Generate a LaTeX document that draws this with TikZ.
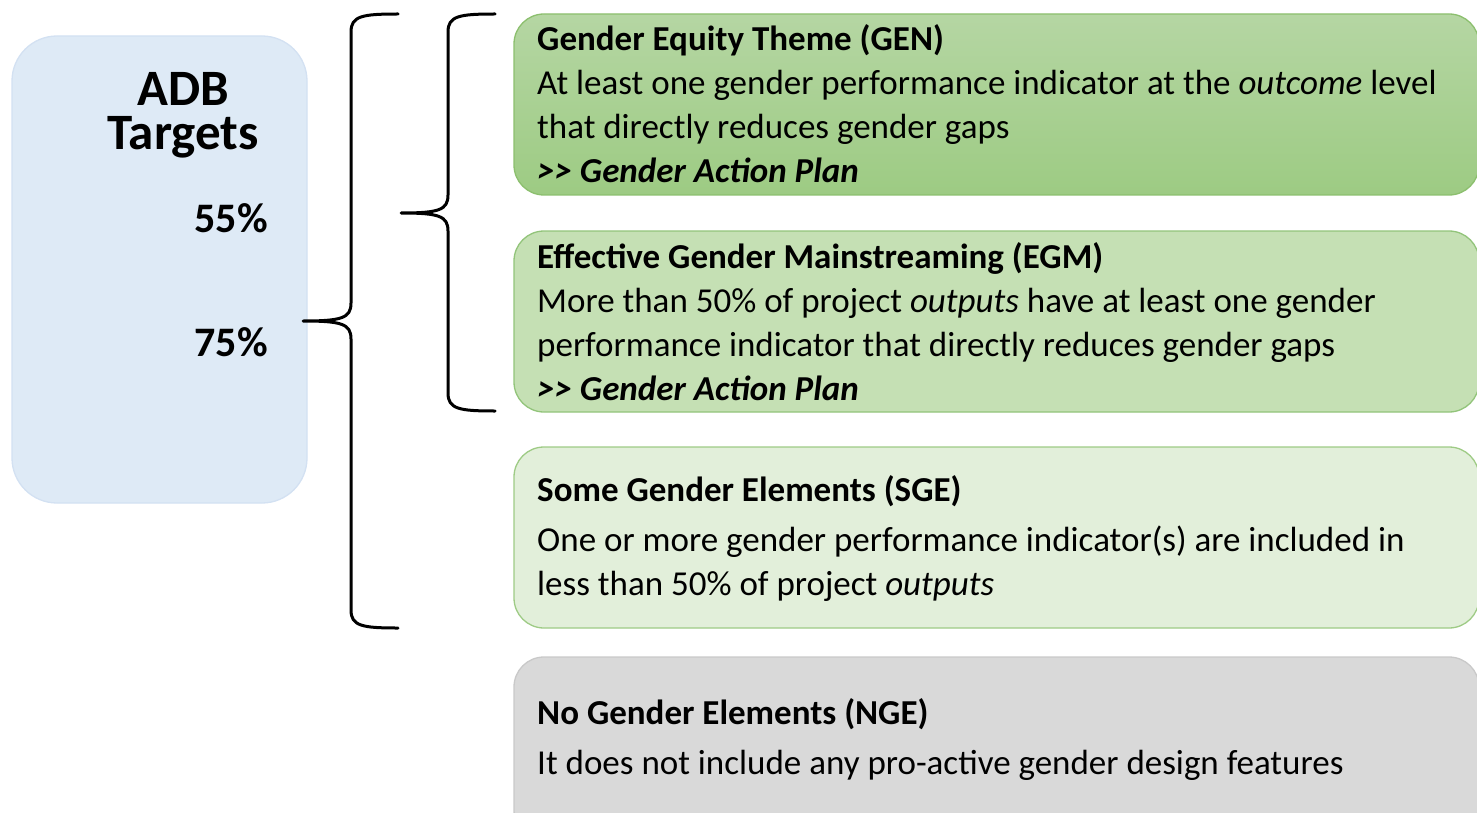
\documentclass[tikz,border=0pt]{standalone}
\usepackage{fontspec}
\setmainfont{Carlito}
\definecolor{blueFill}{HTML}{DEEAF6}
\definecolor{blueLine}{HTML}{D3E1F2}
\definecolor{genTop}{HTML}{B5D6A3}
\definecolor{genBot}{HTML}{9DCB83}
\definecolor{genLine}{HTML}{8CBF6E}
\definecolor{egmFill}{HTML}{C5E0B4}
\definecolor{egmLine}{HTML}{92C47A}
\definecolor{sgeFill}{HTML}{E2EFDA}
\definecolor{sgeLine}{HTML}{9ECB85}
\definecolor{ngeFill}{HTML}{D9D9D9}
\definecolor{ngeLine}{HTML}{C9C9C9}
\tikzset{
  bodytext/.style={anchor=base west, inner sep=0pt, font=\fontsize{35}{40}\selectfont},
  titletext/.style={bodytext, font=\fontsize{35}{40}\selectfont\bfseries},
  pcttext/.style={anchor=base east, inner sep=0pt, font=\fontsize{42}{48}\selectfont\bfseries},
  bigtitle/.style={anchor=north, inner sep=0pt, align=center, font=\fontsize{51}{44}\selectfont\bfseries},
  catbox/.style={rounded corners=30pt, line width=1.3pt},
  bracestyle/.style={line width=3pt, line join=round, line cap=round}
}
\begin{document}
\begin{tikzpicture}[x=1pt,y=-1pt]
\useasboundingbox (0,0) rectangle (1477,813);
\clip (0,0) rectangle (1477,813);
% ADB box
\draw[blueLine, fill=blueFill, rounded corners=45pt, line width=1.3pt] (12,36) rectangle (307,503);
\node[bigtitle] (adb) at (183,72) {ADB\\Targets};
\node[pcttext] (p55) at (268,232) {55\%};
\node[pcttext] (p75) at (268,356) {75\%};
% category boxes
\draw[catbox, genLine, top color=genTop, bottom color=genBot] (514,14) rectangle (1479,195);
\draw[catbox, egmLine, fill=egmFill] (514,231) rectangle (1479,412);
\draw[catbox, sgeLine, fill=sgeFill] (514,447) rectangle (1479,628);
\draw[catbox, ngeLine, fill=ngeFill] (514,657) rectangle (1479,840);
% GEN text
\node[titletext] (genT) at (537,51) {Gender Equity Theme (GEN)};
\node[bodytext] (gen1) at (537,95) {At least one gender performance indicator at the \textit{outcome} level};
\node[bodytext] (gen2) at (537,139) {that directly reduces gender gaps};
\node[titletext] (gen3) at (537,183) {\itshape >{}> Gender Action Plan};
% EGM text
\node[titletext] (egmT) at (537,268) {Effective Gender Mainstreaming (EGM)};
\node[bodytext] (egm1) at (537,312) {More than 50\% of project \textit{outputs} have at least one gender};
\node[bodytext] (egm2) at (537,356) {performance indicator that directly reduces gender gaps};
\node[titletext] (egm3) at (537,400) {\itshape >{}> Gender Action Plan};
% SGE text
\node[titletext] (sgeT) at (537,501) {Some Gender Elements (SGE)};
\node[bodytext] (sge1) at (537,551) {One or more gender performance indicator(s) are included in};
\node[bodytext] (sge2) at (537,595) {less than 50\% of project \textit{outputs}};
% NGE text
\node[titletext] (ngeT) at (537,724) {No Gender Elements (NGE)};
\node[bodytext] (nge1) at (537,774) {It does not include any pro-active gender design features};
% big brace
\draw[bracestyle] (398,14) .. controls (362,14) and (351,16) .. (351,32)
  -- (351,303) .. controls (351,318) and (342,321) .. (303,321)
  .. controls (342,321) and (351,324) .. (351,339)
  -- (351,610) .. controls (351,626) and (362,628) .. (398,628);
% small brace
\draw[bracestyle] (495,14) .. controls (459,14) and (448,16) .. (448,32)
  -- (448,195) .. controls (448,210) and (439,213) .. (401,213)
  .. controls (439,213) and (448,216) .. (448,231)
  -- (448,393) .. controls (448,409) and (459,411) .. (495,411);
\end{tikzpicture}
\end{document}
